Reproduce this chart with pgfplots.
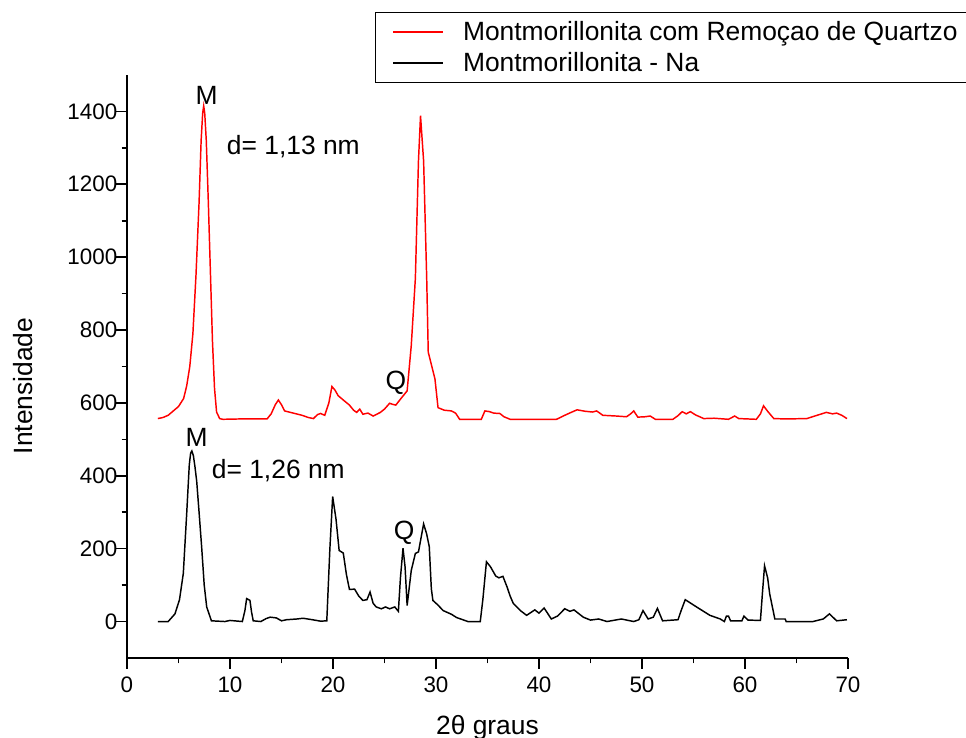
\documentclass[border=0pt]{standalone}
\usepackage{pgfplots}
\pgfplotsset{compat=1.18}
\usepackage{fontspec}
\setmainfont{Liberation Sans}
\definecolor{pred}{RGB}{255,0,0}
\begin{document}
\begin{tikzpicture}
\begin{axis}[
  scale only axis,
  width=540.75pt, height=437.25pt,
  xmin=0, xmax=70, ymin=-100, ymax=1500,
  axis x line*=bottom, axis y line*=left,
  axis line style={-, line width=1.5pt},
  xtick={0,10,...,70}, ytick={0,200,...,1400},
  minor x tick num=1, minor y tick num=1,
  tick align=outside,
  major tick length=8.25pt, minor tick length=4pt,
  every tick/.style={black, line width=1.2pt},
  /pgf/number format/assume math mode=true,
  /pgf/number format/1000 sep={},
  tick label style={font=\fontsize{16.8pt}{19pt}\selectfont},
  yticklabel style={xshift=4.5pt},
  xticklabel style={yshift=-2.5pt},
  xlabel={2θ graus},
  ylabel={Intensidade},
  label style={font=\fontsize{19.8pt}{24pt}\selectfont},
  xlabel style={at={(axis description cs:0.5,-0.1304)}, anchor=base},
  ylabel style={at={(axis description cs:-0.1304,0.4666)}, anchor=base},
  legend style={at={(0.344,1.108)}, anchor=north west, draw=black, line width=1.1pt,
    font=\fontsize{19.8pt}{23pt}\selectfont, inner xsep=8pt, inner ysep=5pt,
    nodes={inner sep=1.5pt}, row sep=4.5pt, cells={anchor=west}},
  legend image code/.code={\path[draw=none] (0pt,0pt) -- (56pt,0pt); \draw[#1, line width=1.1pt] (5pt,0pt) -- (42.5pt,0pt);},
  clip=false,
]
\addplot[pred, line width=1.1pt] coordinates {
(3.0,557)(3.5,560)(4.0,566)(4.5,578)(5.0,590)(5.5,612)(5.8,647)(6.1,700)(6.4,790)(6.7,950)
(7.0,1150)(7.2,1320)(7.35,1395)(7.45,1415)(7.55,1395)(7.7,1320)(7.9,1150)(8.1,960)(8.3,770)(8.5,640)(8.7,575)(9.0,557)
(9.3,555)(11.0,556)(13.6,556)(14.0,570)(14.4,595)(14.7,608)(15.0,595)(15.3,578)(16.0,573)(17.0,566)
(17.6,560)(18.1,557)(18.5,568)(18.8,571)(19.2,566)(19.6,600)(19.9,645)(20.2,635)(20.5,620)(21.0,608)
(21.6,594)(22.0,580)(22.3,574)(22.6,583)(22.9,569)(23.4,572)(23.9,564)(24.6,574)(25.0,583)(25.5,599)
(25.8,596)(26.1,594)(26.6,612)(27.2,633)(27.6,757)(28.0,942)(28.3,1264)(28.5,1388)(28.8,1264)(29.1,942)
(29.25,739)(29.6,700)(29.9,666)(30.2,587)(30.8,580)(31.5,578)(31.9,572)(32.3,555)(34.4,555)(34.75,578)
(35.2,576)(35.6,572)(36.2,571)(36.6,562)(37.2,555)(41.7,555)(42.5,566)(43.2,575)(43.7,581)(44.5,577)
(45.2,575)(45.6,578)(46.2,566)(47.5,564)(48.5,562)(48.9,570)(49.2,578)(49.6,561)(50.3,562)(50.8,564)
(51.3,555)(53.0,555)(53.5,565)(53.9,576)(54.3,570)(54.7,576)(55.2,567)(56.0,557)(57.0,558)(58.4,555)
(59.0,564)(59.4,557)(61.1,555)(61.5,570)(61.8,592)(62.2,577)(62.8,557)(64.0,556)(66.0,557)(67.0,566)
(67.9,574)(68.5,570)(68.9,572)(69.4,566)(69.9,557)
};
\addlegendentry{Montmorillonita com Remoçao de Quartzo}
\addplot[black, line width=1.1pt] coordinates {
(3.0,0)(4.0,0)(4.66,21)(5.1,60)(5.47,132)(5.8,297)(6.05,430)(6.18,462)(6.3,468)(6.45,455)(6.6,425)(6.77,385)
(7.0,300)(7.25,205)(7.5,100)(7.74,40)(8.2,2)(9.5,0)(10.0,3)(11.2,0)(11.45,30)(11.62,63)
(11.94,58)(12.1,25)(12.26,2)(13.0,0)(13.5,8)(13.9,12)(14.5,10)(15.0,2)(15.5,5)(16.5,7)
(17.1,9)(18.0,5)(18.8,1)(19.4,2)(19.7,200)(19.97,343)(20.3,280)(20.6,195)(21.0,188)(21.3,130)
(21.6,88)(22.1,89)(22.5,70)(22.9,58)(23.3,60)(23.6,81)(23.9,50)(24.2,40)(24.7,35)(25.1,40)
(25.5,35)(26.0,40)(26.35,28)(26.55,120)(26.8,201)(27.0,150)(27.2,44)(27.6,140)(28.0,187)(28.3,191)
(28.8,268)(29.1,240)(29.35,205)(29.55,90)(29.7,58)(30.2,45)(30.7,30)(31.5,20)(32.0,11)(32.6,5)
(33.1,0)(34.3,0)(34.55,60)(34.9,164)(35.3,150)(35.8,125)(36.1,120)(36.5,124)(36.9,95)(37.2,70)
(37.5,50)(38.2,30)(38.8,17)(39.6,32)(40.0,23)(40.5,37)(41.2,7)(41.8,15)(42.5,35)(43.0,28)
(43.4,32)(44.3,12)(45.0,4)(45.8,7)(46.6,0)(48.0,7)(49.2,0)(49.7,5)(50.1,30)(50.6,7)
(51.1,12)(51.5,36)(52.0,2)(53.5,5)(53.8,30)(54.2,60)(55.3,40)(56.6,17)(57.6,7)(58.0,0)
(58.2,15)(58.4,15)(58.6,2)(59.7,2)(59.9,15)(60.3,4)(61.5,3)(61.7,80)(61.9,153)(62.2,120)
(62.4,76)(62.9,7)(63.9,7)(64.0,0)(66.6,0)(67.6,7)(68.2,21)(68.9,2)(69.9,5)
};
\addlegendentry{Montmorillonita - Na}
\node[anchor=base, inner sep=0pt, font=\fontsize{19.8pt}{24pt}\selectfont] at (axis cs:7.74,1420) {M};
\node[anchor=base west, inner sep=0pt, font=\fontsize{19.8pt}{24pt}\selectfont] at (axis cs:9.68,1282) {d= 1,13 nm};
\node[anchor=base, inner sep=0pt, font=\fontsize{19.8pt}{24pt}\selectfont] at (axis cs:26.1,638) {Q};
\node[anchor=base, inner sep=0pt, font=\fontsize{19.8pt}{24pt}\selectfont] at (axis cs:6.77,481) {M};
\node[anchor=base west, inner sep=0pt, font=\fontsize{19.8pt}{24pt}\selectfont] at (axis cs:8.22,392) {d= 1,26 nm};
\node[anchor=base, inner sep=0pt, font=\fontsize{19.8pt}{24pt}\selectfont] at (axis cs:26.9,226) {Q};
\coordinate (bbsw) at (rel axis cs:-0.1761,-0.1372);
\coordinate (bbne) at (rel axis cs:1.1637,1.1286);
\end{axis}
\pgfresetboundingbox
\path[use as bounding box] (bbsw) rectangle (bbne);
\end{tikzpicture}
\end{document}
